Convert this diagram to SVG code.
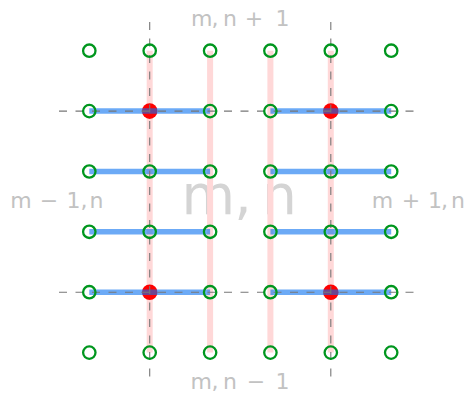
<svg xmlns="http://www.w3.org/2000/svg" width="473" height="395" viewBox="0 0 473 395">
<defs>
<style>
.lbl{font-family:"DejaVu Sans",sans-serif;font-size:22px;fill:#c2c2c2;text-anchor:middle}
.big{font-family:"DejaVu Sans",sans-serif;font-size:55px;fill:#d4d4d4;text-anchor:middle}
.pink{stroke:#ffd8d8;stroke-width:6;fill:none}
.blue{stroke:#0a72f0;stroke-opacity:0.6;stroke-width:5.5;fill:none}
.dash{stroke:#777;stroke-width:1.1;stroke-dasharray:8 8.5;fill:none}
.red{fill:#ff0000}
.grn{fill:none;stroke:#00961e;stroke-width:2.3}
</style>
</defs>
<rect width="473" height="395" fill="#fff"/>
<g id="labels">
<text class="big"><tspan x="208.3" y="214">m</tspan><tspan x="243" y="214">,</tspan><tspan x="279.5" y="214">n</tspan></text>
<text class="lbl"><tspan x="201.7" y="26">m</tspan><tspan x="215" y="26">,</tspan><tspan x="230" y="26">n</tspan><tspan x="254" y="26">+</tspan><tspan x="282.5" y="26">1</tspan></text>
<text class="lbl"><tspan x="201.3" y="389">m</tspan><tspan x="215" y="389">,</tspan><tspan x="230" y="389">n</tspan><tspan x="256" y="389">−</tspan><tspan x="282.5" y="389">1</tspan></text>
<text class="lbl"><tspan x="21" y="208">m</tspan><tspan x="49" y="208">−</tspan><tspan x="73.5" y="208">1</tspan><tspan x="84" y="208">,</tspan><tspan x="96.5" y="208">n</tspan></text>
<text class="lbl"><tspan x="382.5" y="208">m</tspan><tspan x="411" y="208">+</tspan><tspan x="435" y="208">1</tspan><tspan x="444.5" y="208">,</tspan><tspan x="458" y="208">n</tspan></text>
</g>
<g id="connectors">
<line class="pink" x1="149.7" y1="50.7" x2="149.7" y2="352.6"/>
<line class="pink" x1="210.1" y1="50.7" x2="210.1" y2="352.6"/>
<line class="pink" x1="270.4" y1="50.7" x2="270.4" y2="352.6"/>
<line class="pink" x1="330.8" y1="50.7" x2="330.8" y2="352.6"/>
</g>
<g id="red-nodes">
<circle id="r1" class="red" cx="149.7" cy="111.1" r="7.8"/>
<circle id="r2" class="red" cx="330.8" cy="111.1" r="7.8"/>
<circle id="r3" class="red" cx="149.7" cy="292.2" r="7.8"/>
<circle id="r4" class="red" cx="330.8" cy="292.2" r="7.8"/>
</g>
<g id="blue-links">
<line class="blue" x1="89.3" y1="111.1" x2="210.1" y2="111.1"/>
<line class="blue" x1="270.4" y1="111.1" x2="391.2" y2="111.1"/>
<line class="blue" x1="89.3" y1="171.5" x2="210.1" y2="171.5"/>
<line class="blue" x1="270.4" y1="171.5" x2="391.2" y2="171.5"/>
<line class="blue" x1="89.3" y1="231.8" x2="210.1" y2="231.8"/>
<line class="blue" x1="270.4" y1="231.8" x2="391.2" y2="231.8"/>
<line class="blue" x1="89.3" y1="292.2" x2="210.1" y2="292.2"/>
<line class="blue" x1="270.4" y1="292.2" x2="391.2" y2="292.2"/>
</g>
<g id="axes">
<line class="dash" x1="59" y1="111.1" x2="421" y2="111.1"/>
<line class="dash" x1="59" y1="292.2" x2="421" y2="292.2"/>
<line class="dash" x1="149.7" y1="22" x2="149.7" y2="383"/>
<line class="dash" x1="330.8" y1="22" x2="330.8" y2="383"/>
</g>
<g id="green-nodes">
<circle class="grn" cx="89.3" cy="50.7" r="6.2"/><circle class="grn" cx="149.7" cy="50.7" r="6.2"/><circle class="grn" cx="210.1" cy="50.7" r="6.2"/><circle class="grn" cx="270.4" cy="50.7" r="6.2"/><circle class="grn" cx="330.8" cy="50.7" r="6.2"/><circle class="grn" cx="391.2" cy="50.7" r="6.2"/>
<circle class="grn" cx="89.3" cy="111.1" r="6.2"/><circle class="grn" cx="210.1" cy="111.1" r="6.2"/><circle class="grn" cx="270.4" cy="111.1" r="6.2"/><circle class="grn" cx="391.2" cy="111.1" r="6.2"/>
<circle class="grn" cx="89.3" cy="171.5" r="6.2"/><circle class="grn" cx="149.7" cy="171.5" r="6.2"/><circle class="grn" cx="210.1" cy="171.5" r="6.2"/><circle class="grn" cx="270.4" cy="171.5" r="6.2"/><circle class="grn" cx="330.8" cy="171.5" r="6.2"/><circle class="grn" cx="391.2" cy="171.5" r="6.2"/>
<circle class="grn" cx="89.3" cy="231.8" r="6.2"/><circle class="grn" cx="149.7" cy="231.8" r="6.2"/><circle class="grn" cx="210.1" cy="231.8" r="6.2"/><circle class="grn" cx="270.4" cy="231.8" r="6.2"/><circle class="grn" cx="330.8" cy="231.8" r="6.2"/><circle class="grn" cx="391.2" cy="231.8" r="6.2"/>
<circle class="grn" cx="89.3" cy="292.2" r="6.2"/><circle class="grn" cx="210.1" cy="292.2" r="6.2"/><circle class="grn" cx="270.4" cy="292.2" r="6.2"/><circle class="grn" cx="391.2" cy="292.2" r="6.2"/>
<circle class="grn" cx="89.3" cy="352.6" r="6.2"/><circle class="grn" cx="149.7" cy="352.6" r="6.2"/><circle class="grn" cx="210.1" cy="352.6" r="6.2"/><circle class="grn" cx="270.4" cy="352.6" r="6.2"/><circle class="grn" cx="330.8" cy="352.6" r="6.2"/><circle class="grn" cx="391.2" cy="352.6" r="6.2"/>
</g>
</svg>
